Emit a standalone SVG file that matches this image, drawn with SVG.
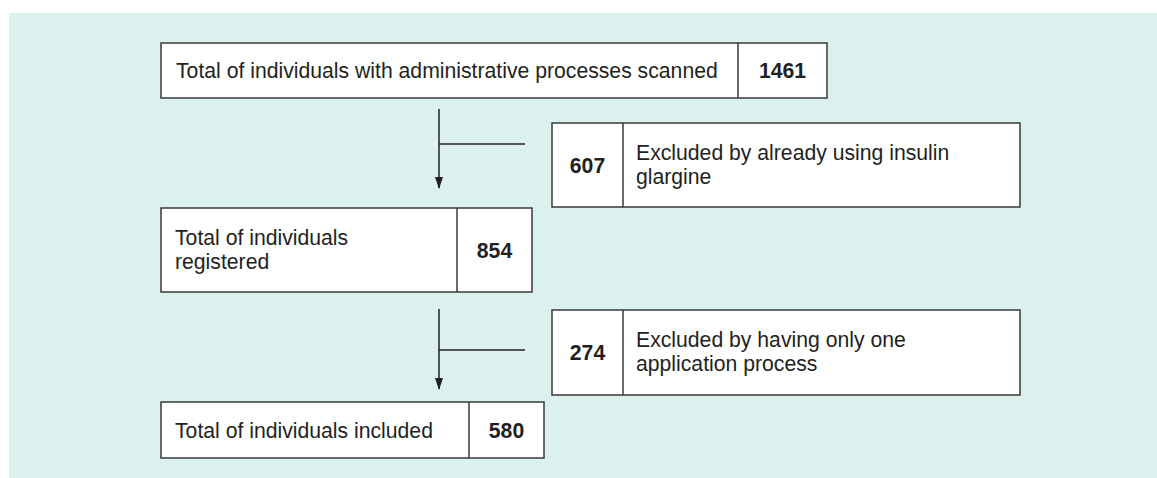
<svg xmlns="http://www.w3.org/2000/svg" width="1157" height="478" viewBox="0 0 1157 478">
  <style>
    .box { fill: #ffffff; stroke: #3a3a3a; stroke-width: 1.5; }
    .div { stroke: #3a3a3a; stroke-width: 1.5; }
    .txt { font-family: "Liberation Sans", Arial, sans-serif; font-size: 21.2px; fill: #231f20; }
    .num { font-family: "Liberation Sans", Arial, sans-serif; font-size: 21.2px; font-weight: bold; fill: #231f20; text-anchor: middle; }
    .line { stroke: #231f20; stroke-width: 1.5; fill: none; }
  </style>
  <defs>
    <marker id="arrow" markerWidth="12" markerHeight="8" refX="11" refY="4" orient="auto" markerUnits="userSpaceOnUse" viewBox="0 0 12 8">
      <path d="M0,0 L12,4 L0,8 Z" fill="#231f20"/>
    </marker>
  </defs>

  <!-- panel background -->
  <rect x="9" y="13" width="1148" height="465" fill="#dcf0ee"/>

  <!-- connectors -->
  <g id="connectors">
    <line class="line" x1="439" y1="109" x2="439" y2="188" marker-end="url(#arrow)"/>
    <line class="line" x1="439" y1="144" x2="525" y2="144"/>
    <line class="line" x1="439" y1="309" x2="439" y2="389" marker-end="url(#arrow)"/>
    <line class="line" x1="439" y1="350" x2="525" y2="350"/>
  </g>

  <g id="scanned">
    <rect class="box" x="161" y="43" width="666" height="55"/>
    <line class="div" x1="738" y1="43" x2="738" y2="98"/>
    <text class="txt" x="176" y="78">Total of individuals with administrative processes scanned</text>
    <text class="num" x="782.5" y="78">1461</text>
  </g>

  <g id="excluded-glargine">
    <rect class="box" x="552" y="123" width="468" height="84"/>
    <line class="div" x1="623" y1="123" x2="623" y2="207"/>
    <text class="num" x="587.5" y="172.5">607</text>
    <text class="txt" x="636" y="160">Excluded by already using insulin</text>
    <text class="txt" x="636" y="184">glargine</text>
  </g>

  <g id="registered">
    <rect class="box" x="161" y="208" width="371" height="84"/>
    <line class="div" x1="457" y1="208" x2="457" y2="292"/>
    <text class="txt" x="175" y="245">Total of individuals</text>
    <text class="txt" x="175" y="269">registered</text>
    <text class="num" x="494.5" y="257.5">854</text>
  </g>

  <g id="excluded-one-process">
    <rect class="box" x="552" y="310" width="468" height="85"/>
    <line class="div" x1="623" y1="310" x2="623" y2="395"/>
    <text class="num" x="587.5" y="360">274</text>
    <text class="txt" x="636" y="347">Excluded by having only one</text>
    <text class="txt" x="636" y="371">application process</text>
  </g>

  <g id="included">
    <rect class="box" x="161" y="402" width="383" height="56"/>
    <line class="div" x1="469" y1="402" x2="469" y2="458"/>
    <text class="txt" x="175" y="437.5">Total of individuals included</text>
    <text class="num" x="506.5" y="437.5">580</text>
  </g>
</svg>
